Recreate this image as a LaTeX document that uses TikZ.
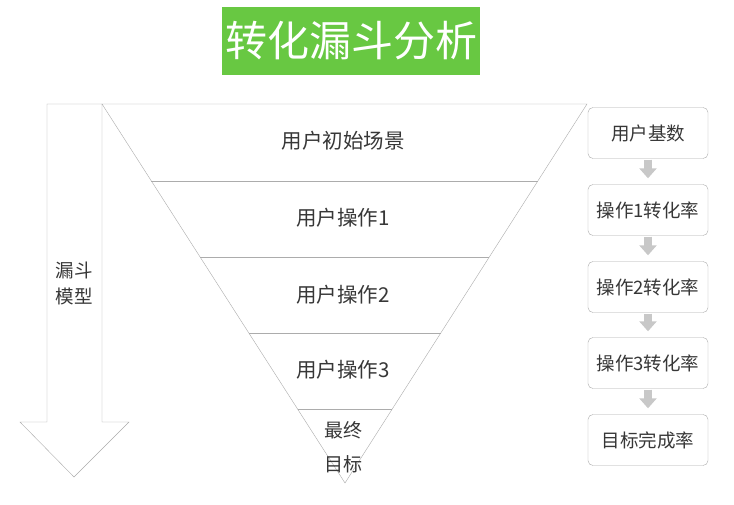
\documentclass[tikz,border=0pt]{standalone}
\usepackage{fontspec}
\setmainfont{Noto Sans CJK SC}
\usepackage{xcolor}
\usepackage{tikz}
\usetikzlibrary{arrows.meta,calc}
\definecolor{titlegreen}{RGB}{104,200,66}
\definecolor{linegray}{RGB}{172,172,172}
\definecolor{textgray}{RGB}{55,55,55}
\definecolor{stepgray}{RGB}{200,200,200}

\begin{document}
\begin{tikzpicture}[x=1pt,y=-1pt,
    lbl/.style={text=textgray,font=\fontsize{20.5}{24}\selectfont},
    ratebox/.style={draw=linegray,rounded corners=5pt,minimum width=120pt,minimum height=51pt,text=textgray,font=\fontsize{18.5}{22}\selectfont},
    stepto/.style={stepgray,line width=8pt,-{Triangle[width=17pt,length=10pt]},shorten <=1pt,shorten >=6pt}]
    \useasboundingbox[fill=white] (0,0) rectangle (734,505);
    % title
    \node[fill=titlegreen,text=white,minimum width=258pt,minimum height=68pt,font=\fontsize{42}{48}\selectfont] (title) at (351,41) {转化漏斗分析};
    % funnel model arrow
    \draw[linegray] (47,104) -- (102,104) -- (102,422) -- (129,422) -- (74,477) -- (20,422) -- (47,422) -- cycle;
    \node[lbl,align=center,font=\fontsize{18.5}{26}\selectfont] (model) at (74,283) {漏斗\\模型};
    % funnel
    \coordinate (tl) at (102,104);
    \coordinate (tr) at (587,104);
    \coordinate (tip) at (345,483);
    \draw[linegray] (tl) -- (tr) -- (tip) -- cycle;
    \foreach \t in {0.2032,0.4037,0.6042,0.8047}
        \draw[linegray] ($(tl)!\t!(tip)$) -- ($(tr)!\t!(tip)$);
    \node[lbl] (scene) at (343,141) {用户初始场景};
    \node[lbl] (op1) at (343,218) {用户操作1};
    \node[lbl] (op2) at (343,295) {用户操作2};
    \node[lbl] (op3) at (343,370) {用户操作3};
    \node[lbl,align=center,font=\fontsize{19}{34}\selectfont] (goal) at (343,447) {最终\\目标};
    % rates
    \node[ratebox] (base) at (648,133) {用户基数};
    \node[ratebox] (rate1) at (648,210) {操作1转化率};
    \node[ratebox] (rate2) at (648,287) {操作2转化率};
    \node[ratebox] (rate3) at (648,363) {操作3转化率};
    \node[ratebox] (final) at (648,440) {目标完成率};
    \draw[stepto] (base) -- (rate1);
    \draw[stepto] (rate1) -- (rate2);
    \draw[stepto] (rate2) -- (rate3);
    \draw[stepto] (rate3) -- (final);
\end{tikzpicture}
\end{document}
